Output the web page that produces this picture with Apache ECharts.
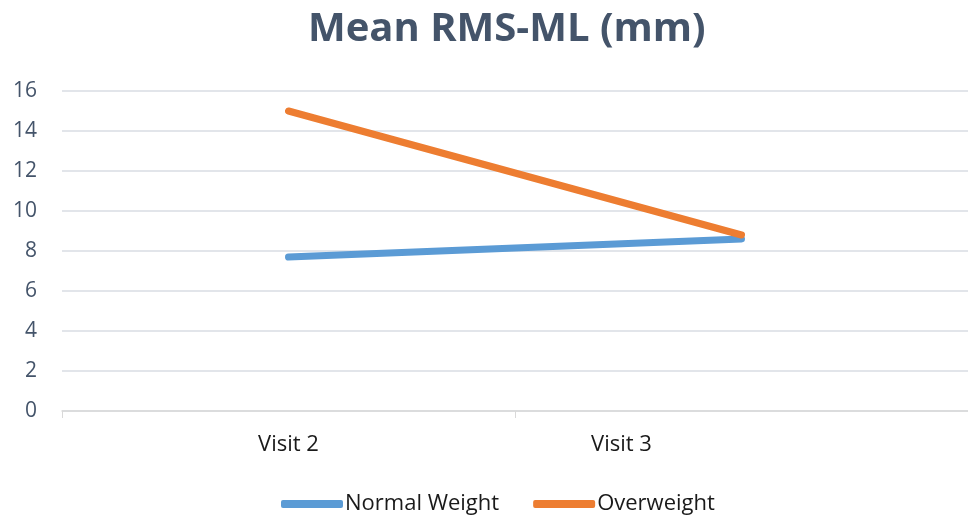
<!DOCTYPE html>
<html><head><meta charset="utf-8">
<script src="https://cdn.jsdelivr.net/npm/echarts@6/dist/echarts.min.js"></script>
<style>html,body{margin:0;padding:0;background:#fff}#c{width:968px;height:521px}</style>
</head><body><div id="c"></div>
<script>
const categories = ['Visit 2', 'Visit 3'];
const normalWeight = [7.7, 8.6];
const overweight = [15.0, 8.8];
const yTicks = {min: 0, max: 16, interval: 2};

const chart = echarts.init(document.getElementById('c'));
chart.setOption({
  animation: false,
  title: {
    text: 'Mean RMS-ML (mm)', left: 303, top: 5,
    textStyle: {fontFamily: 'Open Sans', fontWeight: 'bold', fontSize: 40, color: '#44546A'}
  },
  legend: {
    bottom: 1, left: 276, itemWidth: 62, itemHeight: 8, itemGap: 34,
    icon: 'roundRect',
    textStyle: {fontFamily: 'Open Sans', fontSize: 22, color: '#1a1a1a', padding: [0,0,0,-3]},
    data: ['Normal Weight', 'Overweight']
  },
  grid: {left: 62, right: 0, top: 91, bottom: 110},
  xAxis: {
    type: 'category', data: categories, boundaryGap: true,
    axisLine: {lineStyle: {color: '#D9D9D9', width: 1.5}},
    axisTick: {show: true, length: 7, lineStyle: {color: '#D9D9D9'}},
    axisLabel: {
      fontFamily: 'Open Sans', fontSize: 22, color: '#1a1a1a', margin: 23,
      formatter: function (v, i) { return i === 1 ? '{s|' + v + '}' : v; },
      rich: {s: {fontFamily: 'Open Sans', fontSize: 22, color: '#1a1a1a', padding: [0, 240, 0, 0]}}
    }
  },
  yAxis: {
    type: 'value', min: yTicks.min, max: yTicks.max, interval: yTicks.interval,
    axisLine: {show: false}, axisTick: {show: false},
    splitLine: {lineStyle: {color: '#D9DDE3', width: 1.5}},
    axisLabel: {fontFamily: 'Open Sans', fontSize: 21, color: '#44546A', margin: 25}
  },
  series: [
    {name: 'Normal Weight', type: 'line', data: normalWeight, symbol: 'none',
     lineStyle: {width: 7, color: '#5B9BD5', cap: 'round'}, itemStyle: {color: '#5B9BD5'}},
    {name: 'Overweight', type: 'line', data: overweight, symbol: 'none',
     lineStyle: {width: 7, color: '#ED7D31', cap: 'round'}, itemStyle: {color: '#ED7D31'}}
  ]
});
</script></body></html>
